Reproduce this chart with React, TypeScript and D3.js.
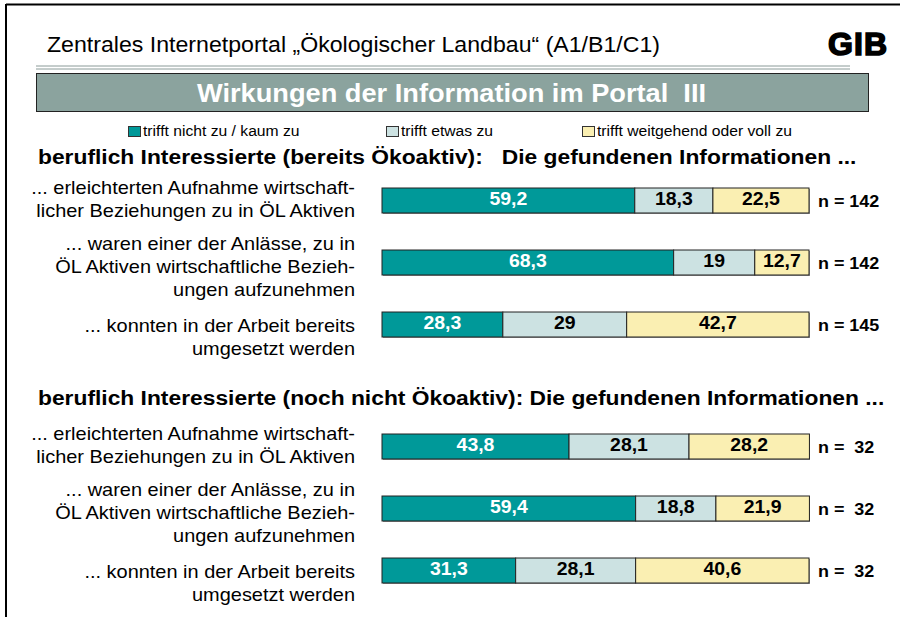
import React, { useEffect, useRef } from 'react'
import { select, scaleLinear, scaleBand, stack } from 'd3'

const seriesNames = ['trifft nicht zu / kaum zu', 'trifft etwas zu', 'trifft weitgehend oder voll zu']
const seriesColors = ['#009999', '#CCE2E2', '#FAEFB2']
const labelColors = ['#ffffff', '#000000', '#000000']

const categories = [
  ['... erleichterten Aufnahme wirtschaft-', 'licher Beziehungen zu in ÖL Aktiven'],
  ['... waren einer der Anlässe, zu in', 'ÖL Aktiven wirtschaftliche Bezieh-', 'ungen aufzunehmen'],
  ['... konnten in der Arbeit bereits', 'umgesetzt werden'],
]

const sectionTitles = [
  'beruflich Interessierte (bereits Ökoaktiv):   Die gefundenen Informationen ...',
  'beruflich Interessierte (noch nicht Ökoaktiv): Die gefundenen Informationen ...',
]

// values per section: [nicht/kaum, etwas, weitgehend/voll]
const aktivValues = [
  [59.2, 18.3, 22.5],
  [68.3, 19, 12.7],
  [28.3, 29, 42.7],
]
const aktivN = ['142', '142', '145']

const nichtAktivValues = [
  [43.8, 28.1, 28.2],
  [59.4, 18.8, 21.9],
  [31.3, 28.1, 40.6],
]
const nichtAktivN = [' 32', ' 32', ' 32']

const FONT = "'Liberation Sans', Arial, Helvetica, sans-serif"

// the original slide is a little wider than the font, so stretch text horizontally
function stretch(sel: any, sx: number) {
  sel.each(function (this: SVGTextElement) {
    const w = this.getComputedTextLength()
    if (w > 0) {
      select(this).attr('textLength', w * sx).attr('lengthAdjust', 'spacingAndGlyphs')
    }
  })
}

function App() {
  const ref = useRef<SVGSVGElement>(null)

  useEffect(() => {
    const svg = select(ref.current)
    svg.selectAll('*').remove()

    // frame
    svg.append('line').attr('x1', 6).attr('x2', 900).attr('y1', 4.5).attr('y2', 4.5)
      .attr('stroke', '#000').attr('stroke-width', 2)
    svg.append('line').attr('x1', 6).attr('x2', 6).attr('y1', 4).attr('y2', 617)
      .attr('stroke', '#000').attr('stroke-width', 2)

    // header
    svg.append('text').attr('x', 47).attr('y', 52)
      .style('font-family', FONT).style('font-size', '22px')
      .attr('textLength', 613).attr('lengthAdjust', 'spacingAndGlyphs')
      .text('Zentrales Internetportal „Ökologischer Landbau“ (A1/B1/C1)')
    svg.append('text').attr('x', 828).attr('y', 55)
      .style('font-family', FONT).style('font-size', '32px').style('font-weight', 900)
      .attr('stroke', '#000').attr('stroke-width', 1.6)
      .attr('textLength', 59)
      .text('GIB')

    svg.append('line').attr('x1', 36).attr('x2', 850).attr('y1', 66).attr('y2', 66)
      .attr('stroke', '#8a9a98').attr('stroke-width', 1)
    svg.append('line').attr('x1', 36).attr('x2', 850).attr('y1', 69).attr('y2', 69)
      .attr('stroke', '#8a9a98').attr('stroke-width', 1)

    svg.append('rect').attr('x', 36.5).attr('y', 73.5).attr('width', 832).attr('height', 38)
      .attr('fill', '#8BA39E').attr('stroke', '#222').attr('stroke-width', 1)
    svg.append('text').attr('x', 197).attr('y', 102)
      .style('font-family', FONT).style('font-size', '25px').style('font-weight', 'bold')
      .attr('fill', '#fff').style('white-space', 'pre')
      .attr('textLength', 509).attr('lengthAdjust', 'spacingAndGlyphs')
      .text('Wirkungen der Information im Portal  III')

    // legend
    const legendX = [128, 386, 582]
    seriesNames.forEach((name, i) => {
      svg.append('rect').attr('x', legendX[i] + 0.5).attr('y', 126.5).attr('width', 12).attr('height', 10)
        .attr('fill', seriesColors[i]).attr('stroke', '#333').attr('stroke-width', 1)
      const t = svg.append('text').attr('x', legendX[i] + 15).attr('y', 136)
        .style('font-family', FONT).style('font-size', '14px')
        .text(name)
      stretch(t, 1.12)
    })

    const x = scaleLinear().domain([0, 100]).range([382, 809])
    const keys = ['0', '1', '2']

    const sections = [
      { title: sectionTitles[0], titleY: 164, top: 188, values: aktivValues, n: aktivN },
      { title: sectionTitles[1], titleY: 405, top: 434, values: nichtAktivValues, n: nichtAktivN },
    ]

    const labelShift = [-2, 3, 12]

    sections.forEach(sec => {
      const title = svg.append('text').attr('x', 38).attr('y', sec.titleY)
        .style('font-family', FONT).style('font-size', '20px').style('font-weight', 'bold')
        .style('white-space', 'pre')
        .text(sec.title)
      stretch(title, 1.14)

      const y = scaleBand<number>()
        .domain([0, 1, 2])
        .range([sec.top, sec.top + 149])
        .paddingInner(0.597)
        .paddingOuter(0)

      const rows = sec.values.map(v => ({ '0': v[0], '1': v[1], '2': v[2] }))
      const stacked = stack<any>().keys(keys)(rows)

      const g = svg.append('g')

      // slight shadow under each bar
      g.selectAll('rect.shadow')
        .data([0, 1, 2])
        .enter()
        .append('rect')
        .attr('x', x(0) + 1)
        .attr('y', i => (y(i) as number) + 1)
        .attr('width', x(100) - x(0))
        .attr('height', y.bandwidth())
        .attr('fill', '#9a9a9a')

      stacked.forEach((layer, si) => {
        g.selectAll(null)
          .data(layer)
          .enter()
          .append('rect')
          .attr('x', d => x(d[0]))
          .attr('y', (d, i) => y(i) as number)
          .attr('width', d => x(d[1]) - x(d[0]))
          .attr('height', y.bandwidth())
          .attr('fill', seriesColors[si])
          .attr('stroke', '#222')
          .attr('stroke-width', 1)

        const vals = g.selectAll(null)
          .data(layer)
          .enter()
          .append('text')
          .attr('x', d => (x(d[0]) + x(d[1])) / 2)
          .attr('y', (d, i) => (y(i) as number) + 16.5)
          .attr('text-anchor', 'middle')
          .attr('fill', labelColors[si])
          .style('font-family', FONT).style('font-size', '18px').style('font-weight', 'bold')
          .text((d, i) => String(sec.values[i][si]).replace('.', ','))
        stretch(vals, 1.08)
      })

      sec.n.forEach((n, i) => {
        const t = g.append('text').attr('x', 818).attr('y', (y(i) as number) + 19)
          .style('font-family', FONT).style('font-size', '16px').style('font-weight', 'bold')
          .style('white-space', 'pre')
          .text('n = ' + n)
        stretch(t, 1.12)
      })

      categories.forEach((lines, i) => {
        const center = (y(i) as number) + y.bandwidth() / 2 + labelShift[i]
        const lh = 23
        const first = center - ((lines.length - 1) * lh) / 2
        lines.forEach((line, j) => {
          const t = g.append('text').attr('x', 355).attr('y', first + j * lh + 7)
            .attr('text-anchor', 'end')
            .style('font-family', FONT).style('font-size', '19px')
            .text(line)
          stretch(t, 1.05)
        })
      })
    })
  }, [])

  return (
    <svg ref={ref} width={900} height={617}
      style={{ position: 'absolute', left: 0, top: 0, background: '#fff' }} />
  )
}

export default App
